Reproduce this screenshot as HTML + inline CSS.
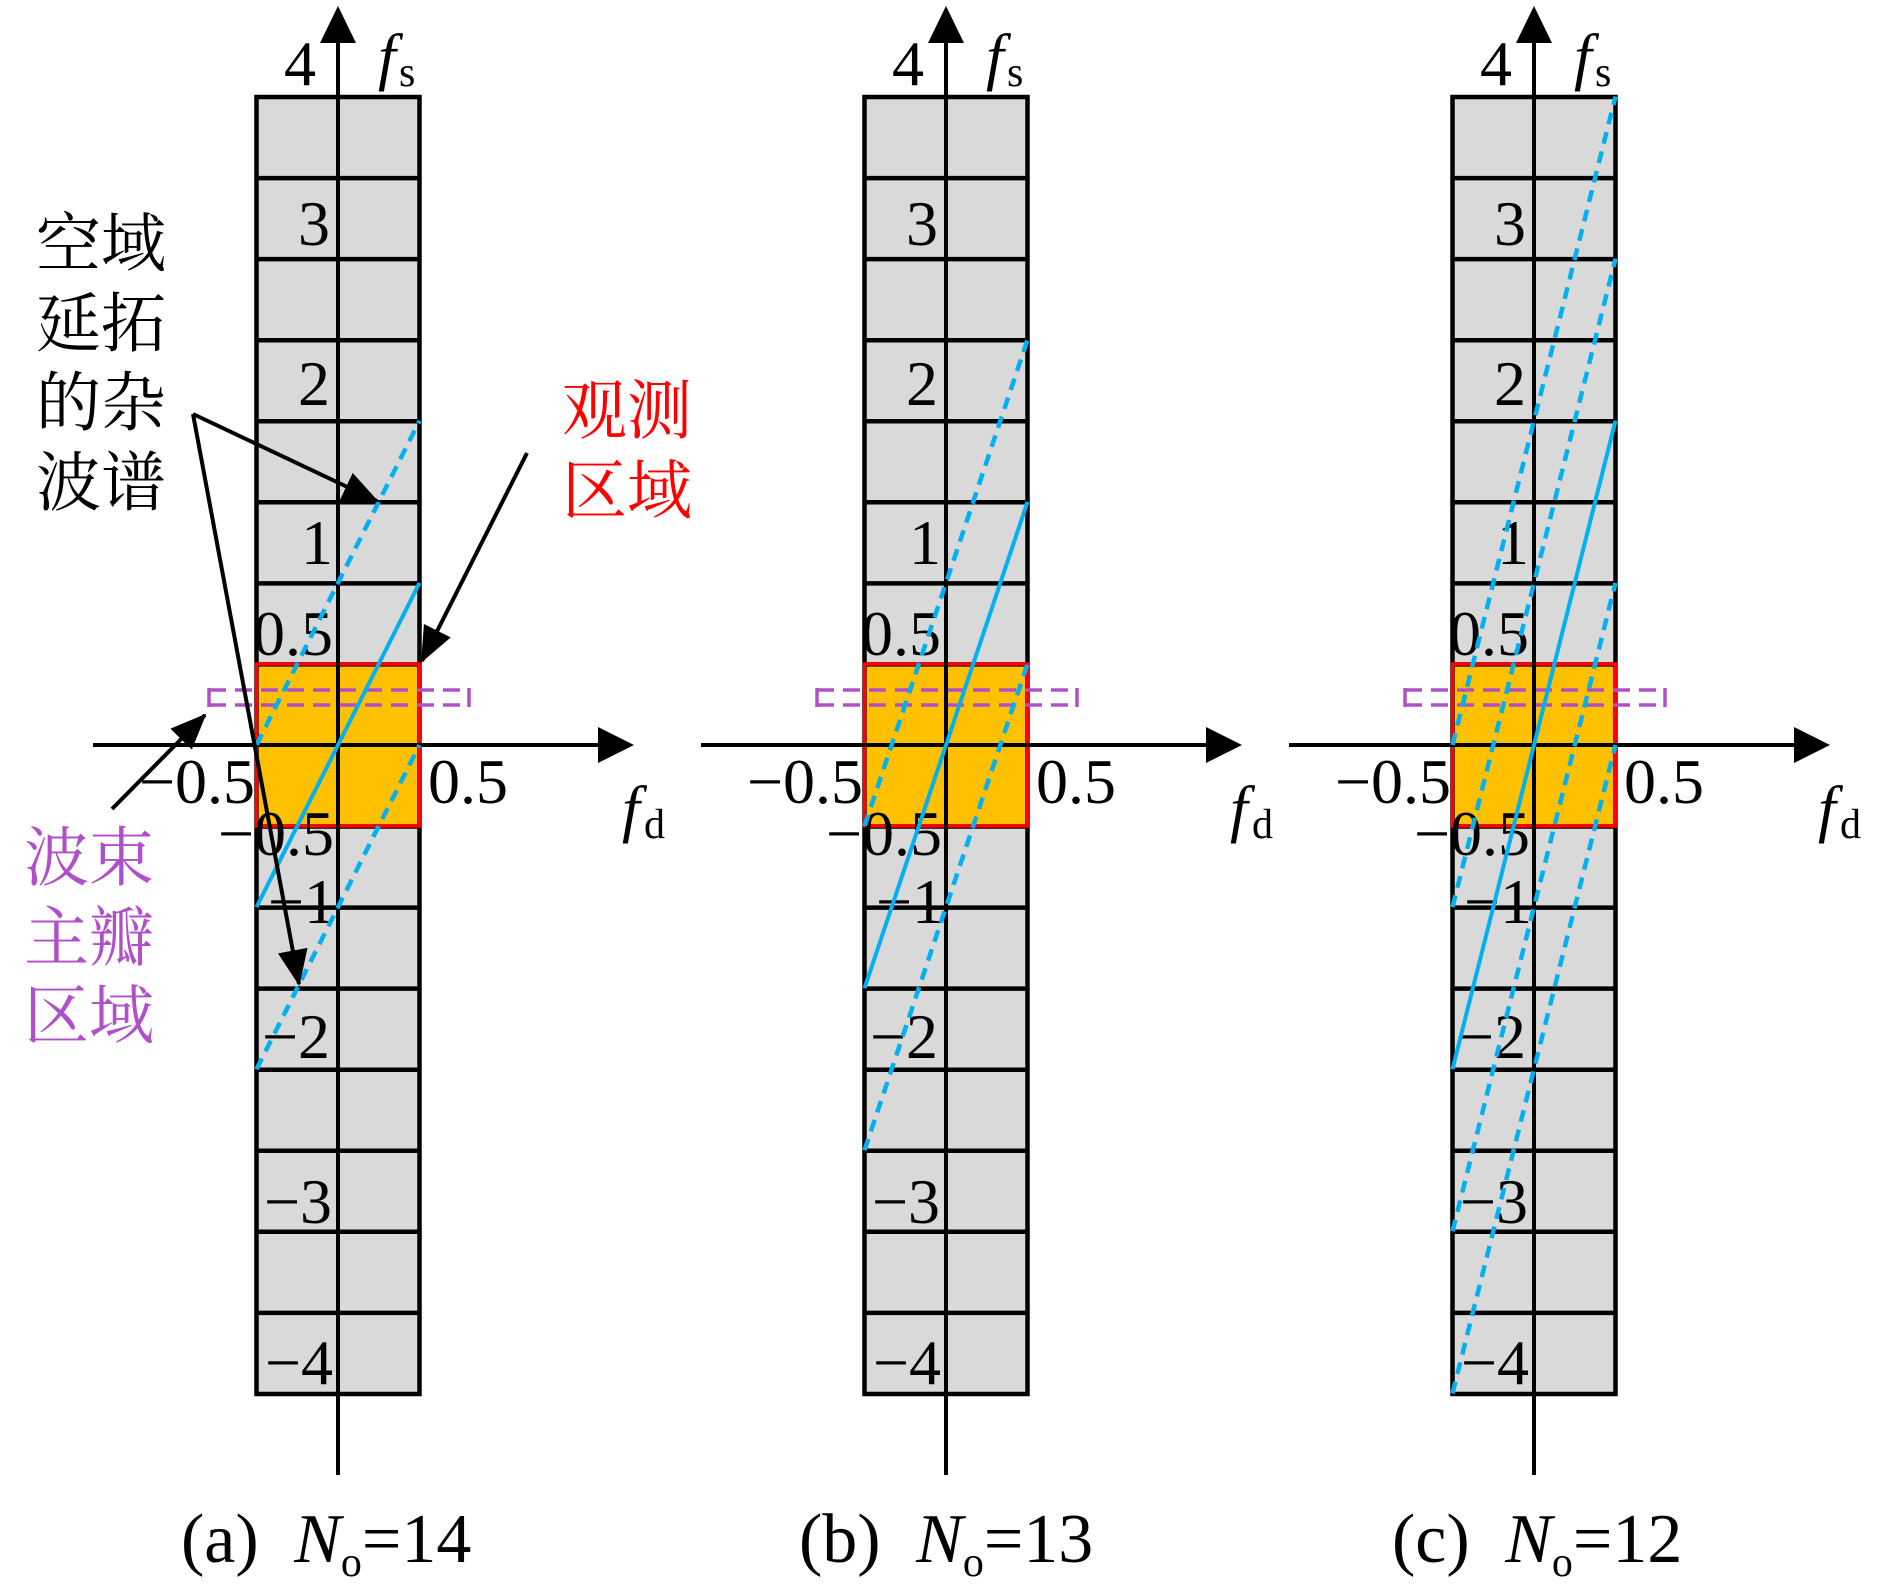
<!DOCTYPE html>
<html><head><meta charset="utf-8"><style>
html,body{margin:0;padding:0;background:#fff;}
svg{display:block;}
text{font-family:"Liberation Serif","Noto Serif CJK SC",serif;}
.n{font-size:64px;fill:#000;text-anchor:middle;}
.cj{font-family:"Liberation Serif","Noto Serif CJK SC","Noto Sans CJK SC",serif;font-size:65px;}
</style></head><body>
<svg width="1890" height="1592" viewBox="0 0 1890 1592" xmlns="http://www.w3.org/2000/svg">
<defs>
<marker id="ah" markerWidth="36" markerHeight="30" refX="34" refY="15" orient="auto" markerUnits="userSpaceOnUse">
<path d="M0,0 L36,15 L0,30 Z" fill="#000"/></marker>
<g id="panel">
  <rect x="256.5" y="97" width="163" height="1297" fill="#d9d9d9"/>
  <rect x="256.5" y="664" width="163" height="162" fill="#ffc000"/>
  <g stroke="#000" stroke-width="4.5" fill="none">
    <rect x="256.5" y="97" width="163" height="1297"/>
    <path d="M256.5 178.1H419.5M256.5 259.1H419.5M256.5 340.2H419.5M256.5 421.2H419.5M256.5 502.3H419.5M256.5 583.4H419.5M256.5 664.4H419.5M256.5 826.5H419.5M256.5 907.6H419.5M256.5 988.6H419.5M256.5 1069.7H419.5M256.5 1150.8H419.5M256.5 1231.8H419.5M256.5 1312.9H419.5"/>
  </g>
  <rect x="256.5" y="664" width="163" height="162" fill="none" stroke="#ff0000" stroke-width="3.5"/>
  <g stroke="#b050c8" stroke-width="3.5" fill="none">
    <path d="M209 690H469M209 705H469" stroke-dasharray="17,9"/>
    <path d="M209 688V707M469 688V707"/>
  </g>
  <line x1="93" y1="745" x2="605" y2="745" stroke="#000" stroke-width="4"/>
  <path d="M598,727 L634,745 L598,763 Z" fill="#000"/>
  <line x1="338" y1="1475" x2="338" y2="38" stroke="#000" stroke-width="4"/>
  <path d="M320,43 L338,6 L356,43 Z" fill="#000"/>
  <text class="n" x="300" y="85">4</text>
  <text x="378" y="78" style="font-size:64px;font-style:italic">f</text>
  <text x="399" y="86" style="font-size:42px">s</text>
  <text class="n" x="314" y="245">3</text>
  <text class="n" x="314" y="405">2</text>
  <text class="n" x="317" y="564">1</text>
  <text class="n" x="293" y="655">0.5</text>
  <text class="n" x="197" y="803">−0.5</text>
  <text class="n" x="468" y="803">0.5</text>
  <text class="n" x="276" y="855">−0.5</text>
  <text class="n" x="302" y="923">−1</text>
  <text class="n" x="296" y="1058">−2</text>
  <text class="n" x="298" y="1223">−3</text>
  <text class="n" x="299" y="1384">−4</text>
  <text x="622" y="830" style="font-size:64px;font-style:italic">f</text>
  <text x="644" y="838" style="font-size:42px">d</text>
</g>
</defs>
<use href="#panel"/>
<use href="#panel" transform="translate(608,0)"/>
<use href="#panel" transform="translate(1196,0)"/>

<g stroke="#00b0f0" stroke-width="4" fill="none">
  <line x1="256.5" y1="907.1" x2="419.5" y2="582.9"/>
  <line x1="864.5" y1="988.2" x2="1027.5" y2="501.9"/>
  <line x1="1452.5" y1="1069.2" x2="1615.5" y2="420.8"/>
  <g stroke-dasharray="12,8" stroke-width="4.5">
    <line x1="256.5" y1="745" x2="419.5" y2="420.8"/>
    <line x1="256.5" y1="1069.2" x2="419.5" y2="745"/>
    <line x1="864.5" y1="826.1" x2="1027.5" y2="339.8"/>
    <line x1="864.5" y1="1150.3" x2="1027.5" y2="664"/>
    <line x1="1452.5" y1="907.1" x2="1615.5" y2="258.7"/>
    <line x1="1452.5" y1="745" x2="1615.5" y2="96.6"/>
    <line x1="1452.5" y1="1231.3" x2="1615.5" y2="582.9"/>
    <line x1="1452.5" y1="1393.4" x2="1615.5" y2="745"/>
  </g>
</g>

<g stroke="#000" stroke-width="4" fill="none">
  <line x1="193" y1="414" x2="377" y2="501" marker-end="url(#ah)"/>
  <line x1="193" y1="414" x2="299" y2="984" marker-end="url(#ah)"/>
  <line x1="527" y1="453" x2="422" y2="661" marker-end="url(#ah)"/>
  <line x1="112" y1="809" x2="205" y2="715" marker-end="url(#ah)"/>
</g>

<g fill="#000">
  <text class="cj" x="36" y="266">空域</text>
  <text class="cj" x="36" y="346">延拓</text>
  <text class="cj" x="36" y="425">的杂</text>
  <text class="cj" x="36" y="505">波谱</text>
</g>
<g fill="#ff0000">
  <text class="cj" x="562" y="433">观测</text>
  <text class="cj" x="562" y="513">区域</text>
</g>
<g fill="#b050c8">
  <text class="cj" x="24" y="880">波束</text>
  <text class="cj" x="24" y="960">主瓣</text>
  <text class="cj" x="24" y="1038">区域</text>
</g>

<g style="font-size:70px" fill="#000">
  <text x="181" y="1562">(a) <tspan dx="18" font-style="italic">N</tspan><tspan font-size="42" dy="14">o</tspan><tspan dy="-14">=14</tspan></text>
  <text x="799" y="1562">(b) <tspan dx="18" font-style="italic">N</tspan><tspan font-size="42" dy="14">o</tspan><tspan dy="-14">=13</tspan></text>
  <text x="1392" y="1562">(c) <tspan dx="18" font-style="italic">N</tspan><tspan font-size="42" dy="14">o</tspan><tspan dy="-14">=12</tspan></text>
</g>
</svg>
</body></html>
